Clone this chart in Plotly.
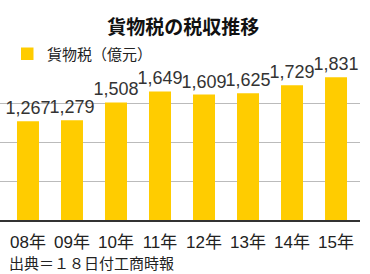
import plotly.graph_objects as go

categories = ["08年", "09年", "10年", "11年", "12年", "13年", "14年", "15年"]
values = [1267, 1279, 1508, 1649, 1609, 1625, 1729, 1831]
labels = ["1,267", "1,279", "1,508", "1,649", "1,609", "1,625", "1,729", "1,831"]
series_name = "貨物税（億元）"
title = "貨物税の税収推移"
source = "出典＝１８日付工商時報"

FONT = "Liberation Sans, Noto Sans CJK JP, sans-serif"
BAR = "#FFCC00"

fig = go.Figure(go.Bar(
    x=list(range(len(categories))), y=values, name=series_name,
    marker=dict(color=BAR, line=dict(width=0)),
    text=labels, textposition="outside", cliponaxis=False, constraintext="none",
    textfont=dict(size=18, color="#333333", family=FONT),
    showlegend=False,
))

def px_x(p):
    return p / 360.0

def px_y(p):
    return (220.0 - p) / 156.0

fig.update_layout(
    width=370, height=274,
    margin=dict(l=0, r=10, t=64, b=54),
    paper_bgcolor="white", plot_bgcolor="white",
    bargap=0.5,
    font=dict(family=FONT, color="#222222"),
    title=dict(text="<b>" + title + "</b>", x=0.495, xanchor="center", y=0.9, yanchor="middle",
               font=dict(size=19, color="#111111", family=FONT)),
    xaxis=dict(tickmode="array", tickvals=list(range(len(categories))), ticktext=categories,
               range=[-0.636, 7.545], showline=True, linecolor="#333333", linewidth=1.5,
               showgrid=False, ticks="", ticklabelstandoff=6,
               tickfont=dict(size=17, color="#222222", family=FONT)),
    yaxis=dict(range=[0, 2000], dtick=500, showgrid=True, gridcolor="#bbbbbb", gridwidth=1,
               showticklabels=False, zeroline=False, showline=False),
    shapes=[dict(type="rect", xref="paper", yref="paper",
                 x0=px_x(21), x1=px_x(33.5), y0=px_y(60), y1=px_y(47.5),
                 fillcolor=BAR, line=dict(width=0))],
    annotations=[
        dict(text=series_name, xref="paper", yref="paper", x=px_x(45), y=px_y(54),
             xanchor="left", yanchor="middle", showarrow=False,
             font=dict(size=15, color="#222222", family=FONT)),
        dict(text=source, xref="paper", yref="paper", x=0.0, y=-0.276, xanchor="left",
             yanchor="middle", showarrow=False, xshift=7,
             font=dict(size=15, color="#222222", family=FONT)),
    ],
)

fig.write_html("out.html")
